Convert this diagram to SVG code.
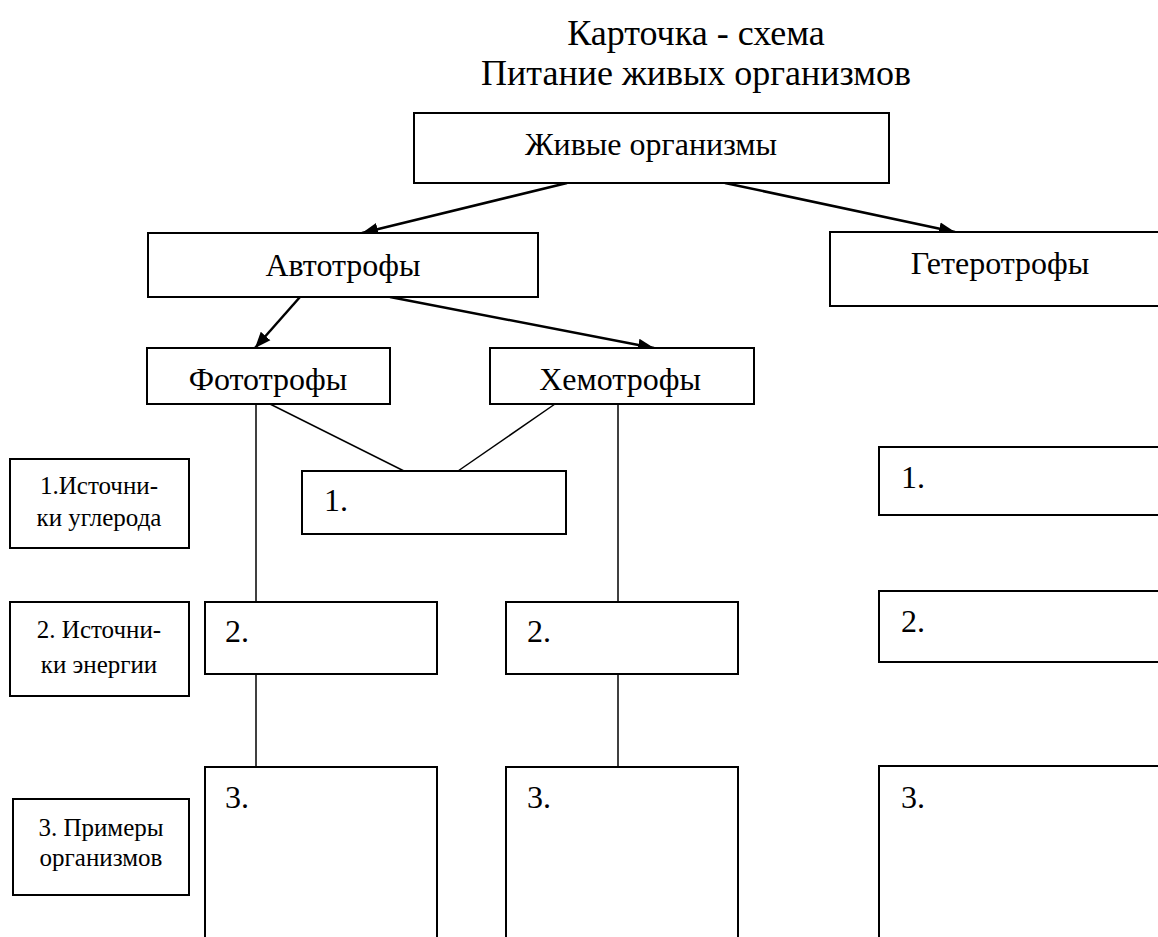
<svg xmlns="http://www.w3.org/2000/svg" width="1158" height="937" viewBox="0 0 1158 937">
<defs>
<marker id="ahb" viewBox="0 0 10 10" refX="10" refY="5" markerWidth="16" markerHeight="16" markerUnits="userSpaceOnUse" orient="auto">
<path d="M0,1 L10,5 L0,9 z" fill="#000"/>
</marker>
</defs>
<style>
.b{fill:#fff;stroke:#000;stroke-width:2}
.t{font-family:"Liberation Serif","Times New Roman",serif;fill:#000}
.big{font-size:32px}
.lab{font-size:25px;text-anchor:middle}
.c{text-anchor:middle}
.ln{stroke:#000;stroke-width:1.5;fill:none}
.ar{stroke:#000;stroke-width:2.5;fill:none;marker-end:url(#ahb)}
</style>
<rect width="1158" height="937" fill="#fff"/>
<g id="title">
<text class="t c" x="696" y="45" font-size="36">Карточка - схема</text>
<text class="t c" x="696" y="85" font-size="36">Питание живых организмов</text>
</g>
<g id="connectors">
<line class="ar" x1="567" y1="183" x2="362" y2="233"/>
<line class="ar" x1="725" y1="183" x2="955" y2="232"/>
<line class="ar" x1="300" y1="297" x2="255" y2="348"/>
<line class="ar" x1="390" y1="297" x2="654" y2="348"/>
<line class="ln" x1="270" y1="404" x2="404" y2="471"/>
<line class="ln" x1="555" y1="404" x2="458" y2="471"/>
<line class="ln" x1="256" y1="404" x2="256" y2="602"/>
<line class="ln" x1="256" y1="674" x2="256" y2="767"/>
<line class="ln" x1="618" y1="404" x2="618" y2="602"/>
<line class="ln" x1="618" y1="674" x2="618" y2="767"/>
</g>
<g id="n-zhivye">
<rect class="b" x="414" y="113" width="475" height="70"/>
<text class="t c big" x="651" y="155">Живые организмы</text>
</g>
<g id="n-avto">
<rect class="b" x="148" y="233" width="390" height="64"/>
<text class="t c big" x="343" y="276">Автотрофы</text>
</g>
<g id="n-getero">
<rect class="b" x="830" y="232" width="340" height="74"/>
<text class="t c big" x="1000" y="274">Гетеротрофы</text>
</g>
<g id="n-foto">
<rect class="b" x="147" y="348" width="243" height="56"/>
<text class="t c big" x="268" y="390">Фототрофы</text>
</g>
<g id="n-hemo">
<rect class="b" x="490" y="348" width="264" height="56"/>
<text class="t c big" x="620" y="390">Хемотрофы</text>
</g>
<g id="l1">
<rect class="b" x="10" y="459" width="179" height="89"/>
<text class="t lab" x="99" y="494">1.Источни-</text>
<text class="t lab" x="99" y="526">ки углерода</text>
</g>
<g id="l2">
<rect class="b" x="10" y="602" width="179" height="94"/>
<text class="t lab" x="99" y="638">2. Источни-</text>
<text class="t lab" x="99" y="673">ки энергии</text>
</g>
<g id="l3">
<rect class="b" x="13" y="799" width="176" height="96"/>
<text class="t lab" x="101" y="836">3. Примеры</text>
<text class="t lab" x="101" y="866">организмов</text>
</g>
<g id="b1mid">
<rect class="b" x="302" y="471" width="264" height="63"/>
<text class="t big" x="324" y="511">1.</text>
</g>
<g id="b2a">
<rect class="b" x="205" y="602" width="232" height="72"/>
<text class="t big" x="225" y="642">2.</text>
</g>
<g id="b2b">
<rect class="b" x="506" y="602" width="232" height="72"/>
<text class="t big" x="527" y="642">2.</text>
</g>
<g id="b3a">
<rect class="b" x="205" y="767" width="232" height="190"/>
<text class="t big" x="225" y="808">3.</text>
</g>
<g id="b3b">
<rect class="b" x="506" y="767" width="232" height="190"/>
<text class="t big" x="527" y="808">3.</text>
</g>
<g id="r1">
<rect class="b" x="879" y="447" width="300" height="68"/>
<text class="t big" x="901" y="488">1.</text>
</g>
<g id="r2">
<rect class="b" x="879" y="591" width="300" height="71"/>
<text class="t big" x="901" y="632">2.</text>
</g>
<g id="r3">
<rect class="b" x="879" y="766" width="300" height="190"/>
<text class="t big" x="901" y="808">3.</text>
</g>
</svg>
